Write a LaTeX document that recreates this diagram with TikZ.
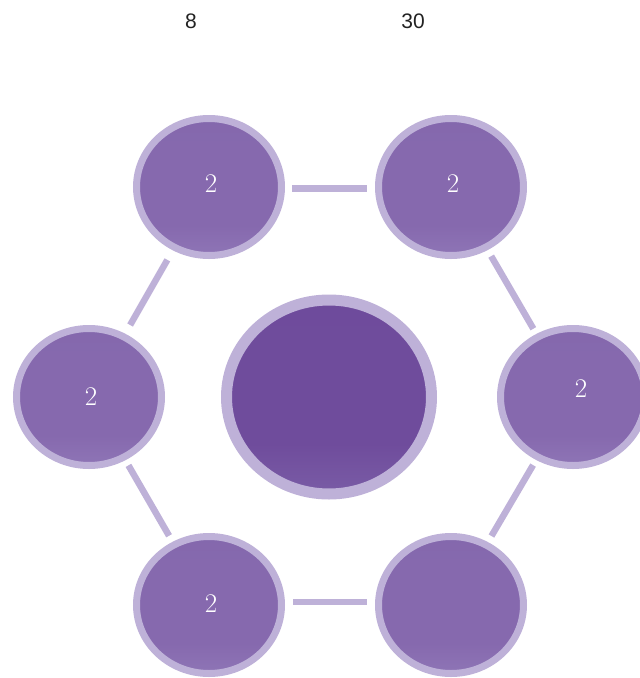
\documentclass[tikz,border=0pt]{standalone}
\usepackage{fontspec}
\newfontfamily\labelfont{Liberation Sans}
\usetikzlibrary{shapes.geometric}
\definecolor{ringc}{HTML}{BEB1D8}
\definecolor{smtop}{HTML}{8066AB}
\definecolor{smmid}{HTML}{8669AE}
\definecolor{smbot}{HTML}{A190C8}
\definecolor{bgtop}{HTML}{6C489A}
\definecolor{bgmid}{HTML}{6F4C9C}
\definecolor{bgbot}{HTML}{8E7AB8}
\definecolor{txtc}{HTML}{222222}
\pgfdeclareverticalshading{smallshade}{100bp}{color(0bp)=(smbot); color(36bp)=(smmid); color(64bp)=(smmid); color(100bp)=(smtop)}
\pgfdeclareverticalshading{bigshade}{100bp}{color(0bp)=(bgbot); color(38bp)=(bgmid); color(64bp)=(bgmid); color(100bp)=(bgtop)}
\tikzset{
  smallnode/.style={ellipse, draw=ringc, line width=7pt, shading=smallshade,
    minimum width=145pt, minimum height=137pt, inner sep=0pt},
  numlabel/.style={text=white, font=\fontsize{27}{27}\selectfont, inner sep=0pt},
  bignode/.style={ellipse, draw=ringc, line width=11pt, shading=bigshade,
    minimum width=205pt, minimum height=194pt, inner sep=0pt},
  link/.style={draw=ringc, line width=6.5pt},
  toplabel/.style={text=txtc, font=\labelfont\fontsize{21}{21}\selectfont, inner sep=0pt}
}
\begin{document}
\begin{tikzpicture}[x=1pt,y=-1pt]
\useasboundingbox (0,0) rectangle (640,678);
\clip (0,0) rectangle (640,678);
\node[toplabel] (l8) at (191,21) {8};
\node[toplabel] (l30) at (413,21) {30};
\node[bignode] (c) at (329,397) {};
\node[smallnode] (tl) at (209,187) {};
\node[smallnode] (tr) at (451,187) {};
\node[smallnode] (l) at (89,397) {};
\node[smallnode] (r) at (573,397) {};
\node[smallnode] (bl) at (209,605) {};
\node[smallnode] (br) at (451,605) {};
\node[numlabel] (t1) at (211,184) {2};
\node[numlabel] (t2) at (453,184) {2};
\node[numlabel] (t3) at (91,397) {2};
\node[numlabel] (t4) at (581,389) {2};
\node[numlabel] (t5) at (211,604) {2};
\draw[link, shorten <=7pt, shorten >=8pt] ([yshift=-1.5pt]tl.east) -- ([yshift=-1.5pt]tr.west);
\draw[link, shorten <=8pt, shorten >=8pt] ([yshift=3pt]bl.east) -- ([yshift=3pt]br.west);
\draw[link, shorten <=11pt, shorten >=10pt] (tl) -- (l);
\draw[link, shorten <=6pt, shorten >=7pt] (l) -- (bl);
\draw[link, shorten <=7pt, shorten >=6pt] (tr) -- (r);
\draw[link, shorten <=6pt, shorten >=7pt] (r) -- (br);
\end{tikzpicture}
\end{document}
